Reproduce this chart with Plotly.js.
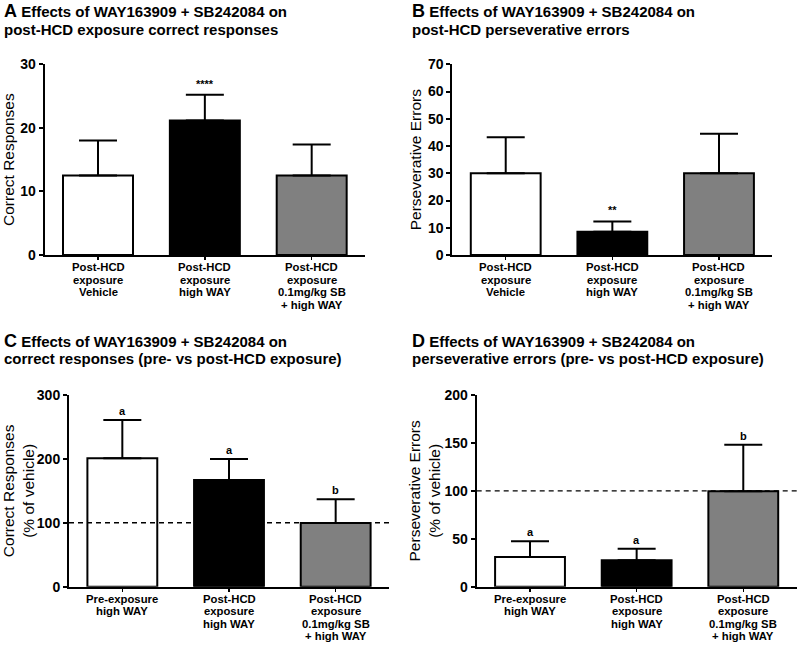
<!DOCTYPE html>
<html>
<head>
<meta charset="utf-8">
<script src="https://cdn.plot.ly/plotly-3.0.1.min.js"></script>
<style>html,body{margin:0;padding:0;background:#fff;}#chart{width:800px;height:645px;}</style>
</head>
<body>
<div id="chart"></div>
<script>
// ---- data ----
const catsAB = ["Post-HCD<br>exposure<br>Vehicle", "Post-HCD<br>exposure<br>high WAY", "Post-HCD<br>exposure<br>0.1mg/kg SB<br>+ high WAY"];
const catsCD = ["Pre-exposure<br>high WAY", "Post-HCD<br>exposure<br>high WAY", "Post-HCD<br>exposure<br>0.1mg/kg SB<br>+ high WAY"];

const valsA = [12.5, 21.15, 12.5];
const errA  = [5.5, 4.05, 4.9];
const sigA  = ["", "****", ""];

const valsB = [30, 8.5, 30];
const errB  = [13.2, 3.8, 14.5];
const sigB  = ["", "**", ""];

const valsC = [201, 167, 99.5];
const errC  = [60, 33, 37.5];
const sigC  = ["a", "a", "b"];

const valsD = [31, 27.5, 99.5];
const errD  = [16.5, 12, 48.5];
const sigD  = ["a", "a", "b"];

const refLine = 100;

const yTicksA = [0, 10, 20, 30];
const yTicksB = [0, 10, 20, 30, 40, 50, 60, 70];
const yTicksC = [0, 100, 200, 300];
const yTicksD = [0, 50, 100, 150, 200];

const barColors = ["#ffffff", "#000000", "#808080"];

const panelLetters = ["A", "B", "C", "D"];
const titleLine1 = "Effects of WAY163909 + SB242084 on";
const titleLine2 = [
  "post-HCD exposure correct responses",
  "post-HCD perseverative errors",
  "correct responses (pre- vs post-HCD exposure)",
  "perseverative errors (pre- vs post-HCD exposure)"
];
const yTitles = ["Correct Responses", "Perseverative Errors", "Correct Responses<br>(% of vehicle)", "Perseverative Errors<br>(% of vehicle)"];

// ---- build ----
const FONT = "Liberation Sans, Arial, sans-serif";
function barTrace(cats, vals, err, xa, ya) {
  return {
    type: "bar", x: cats, y: vals, xaxis: xa, yaxis: ya, width: 0.655,
    marker: {color: barColors, line: {color: "#000", width: 2}},
    error_y: {type: "data", symmetric: false, array: err, arrayminus: [0,0,0], color: "#000", thickness: 2, width: 19},
    showlegend: false, hoverinfo: "skip"
  };
}
const data = [
  barTrace(catsAB, valsA, errA, "x", "y"),
  barTrace(catsAB, valsB, errB, "x2", "y2"),
  barTrace(catsCD, valsC, errC, "x3", "y3"),
  barTrace(catsCD, valsD, errD, "x4", "y4")
];

function xAxis(domain, anchor) {
  return {
    domain: domain, anchor: anchor, type: "category", range: [-0.5, 2.5],
    showline: true, linecolor: "#000", linewidth: 2, ticks: "outside", ticklen: 3, tickwidth: 1.5, tickcolor: "#000",
    showgrid: false, zeroline: false, fixedrange: true, showticklabels: false
  };
}
function yAxis(domain, anchor, ticks, title, standoff) {
  return {
    domain: domain, anchor: anchor, range: [0, ticks[ticks.length - 1]], tickvals: ticks,
    showline: true, linecolor: "#000", linewidth: 2, ticks: "outside", ticklen: 4, tickwidth: 2, tickcolor: "#000",
    showgrid: false, zeroline: false, fixedrange: true,
    tickfont: {family: FONT, size: 14, color: "#000", weight: "bold"},
    title: {text: title, font: {family: FONT, size: 15.5, color: "#000"}, standoff: standoff}
  };
}

const W = 800, H = 645;
const yTop = [1 - 255 / H, 1 - 64.3 / H];
const yBot = [1 - 586.7 / H, 1 - 395 / H];

const layout = {
  width: W, height: H,
  margin: {l: 0, r: 0, t: 0, b: 0},
  paper_bgcolor: "#fff", plot_bgcolor: "rgba(0,0,0,0)",
  font: {family: FONT, color: "#000"},
  xaxis: xAxis([44.6 / W, 365.1 / W], "y"),
  xaxis2: xAxis([452.4 / W, 772.3 / W], "y2"),
  xaxis3: xAxis([69 / W, 389 / W], "y3"),
  xaxis4: xAxis([476.7 / W, 796.6 / W], "y4"),
  yaxis: yAxis(yTop, "x", yTicksA, yTitles[0], 3),
  yaxis2: yAxis(yTop, "x2", yTicksB, yTitles[1], 3),
  yaxis3: yAxis(yBot, "x3", yTicksC, yTitles[2], 0),
  yaxis4: yAxis(yBot, "x4", yTicksD, yTitles[3], 0),
  shapes: [
    {type: "line", xref: "x3 domain", yref: "y3", x0: 0, x1: 1.012, y0: refLine, y1: refLine, line: {color: "#000", width: 1.4, dash: "5px,4px"}},
    {type: "line", xref: "x4 domain", yref: "y4", x0: 0, x1: 1.005, y0: refLine, y1: refLine, line: {color: "#000", width: 1.4, dash: "5px,4px"}}
  ],
  annotations: []
};

// titles: two separate lines for the tighter spacing of the reference
const titleX = [3, 411, 3, 411];
const titleY1 = [11.5, 11.5, 340.5, 340.5];
const titleY2 = [29, 29, 358, 358];
panelLetters.forEach((L, i) => {
  layout.annotations.push({
    xref: "paper", yref: "paper", x: titleX[i] / W, y: 1 - titleY1[i] / H,
    xanchor: "left", yanchor: "middle", align: "left", showarrow: false, borderpad: 0,
    text: "<b><span style='font-size:18px'>" + L + "</span> " + titleLine1 + "</b>",
    font: {family: FONT, size: 15, color: "#000"}
  });
  layout.annotations.push({
    xref: "paper", yref: "paper", x: titleX[i] / W, y: 1 - titleY2[i] / H,
    xanchor: "left", yanchor: "middle", align: "left", showarrow: false, borderpad: 0,
    text: "<b>" + titleLine2[i] + "</b>",
    font: {family: FONT, size: 15, color: "#000"}
  });
});

// category labels (tight line spacing like the reference)
function catLabels(cats, xa, ya) {
  cats.forEach((c) => {
    c.split("<br>").forEach((line, j) => {
      layout.annotations.push({
        xref: xa, yref: ya, x: c, y: 0, yanchor: "middle", yshift: -(12 + 12.5 * j), borderpad: 0,
        text: "<b>" + line + "</b>", showarrow: false,
        font: {family: FONT, size: 11.3, color: "#000"}
      });
    });
  });
}
catLabels(catsAB, "x", "y");
catLabels(catsAB, "x2", "y2");
catLabels(catsCD, "x3", "y3");
catLabels(catsCD, "x4", "y4");

// significance labels
function sigAnn(cats, vals, err, sig, xa, ya, size, shift) {
  cats.forEach((c, i) => {
    if (!sig[i]) return;
    layout.annotations.push({
      xref: xa, yref: ya, x: c, y: vals[i] + err[i], yanchor: "bottom", yshift: shift,
      text: "<b>" + sig[i] + "</b>", showarrow: false,
      font: {family: FONT, size: size, color: "#000"}
    });
  });
}
sigAnn(catsAB, valsA, errA, sigA, "x", "y", 11, 3);
sigAnn(catsAB, valsB, errB, sigB, "x2", "y2", 11, 3);
sigAnn(catsCD, valsC, errC, sigC, "x3", "y3", 11, 1);
sigAnn(catsCD, valsD, errD, sigD, "x4", "y4", 11, 1);

Plotly.newPlot("chart", data, layout, {displayModeBar: false, staticPlot: true});
</script>
</body>
</html>
